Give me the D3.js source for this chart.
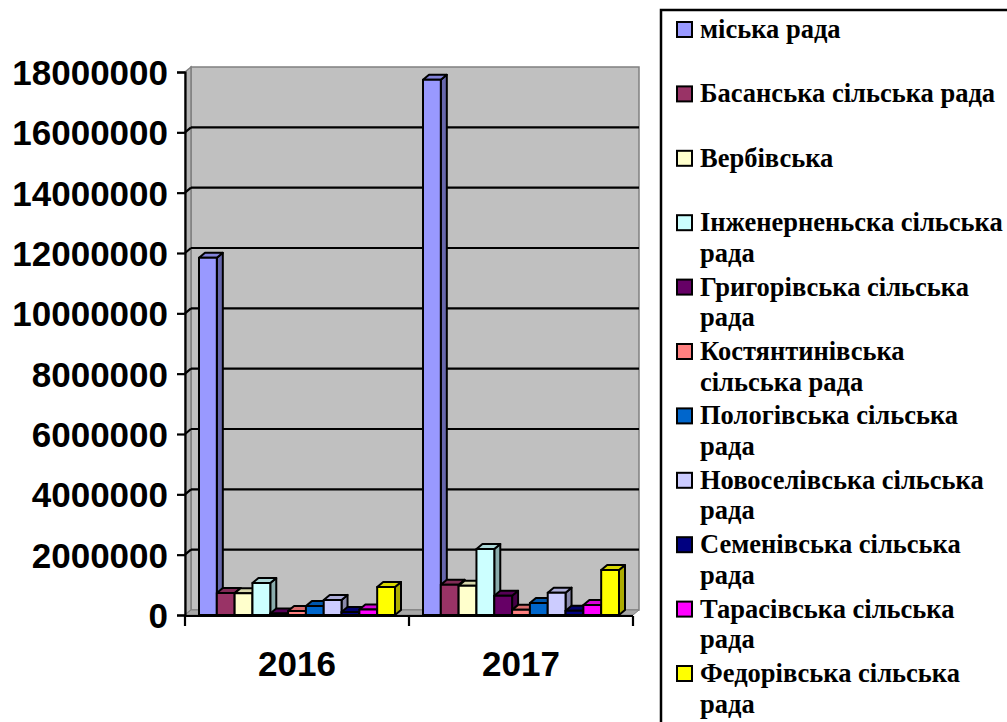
<!DOCTYPE html>
<html>
<head>
<meta charset="utf-8">
<script src="https://cdn.jsdelivr.net/npm/d3@7"></script>
<style>
  html, body { margin: 0; padding: 0; background: #fff; }
  svg { display: block; }
  svg text.lgt { font-family: "Liberation Serif", "Times New Roman", Tinos, FreeSerif, serif; font-weight: bold; }
</style>
</head>
<body>
<svg id="chart" width="1007" height="722"></svg>
<script>
// ---- data ----
const years = ["2016", "2017"];
const seriesNames = [
  "міська рада",
  "Басанська сільська рада",
  "Вербівська",
  "Інженерненьска сільська рада",
  "Григорівська сільська рада",
  "Костянтинівська сільська рада",
  "Пологівська сільська рада",
  "Новоселівська сільська рада",
  "Семенівська сільська рада",
  "Тарасівська сільська рада",
  "Федорівська сільська рада"
];
// legend lines as wrapped in the original
const legendLines = [
  ["міська рада"],
  ["Басанська сільська рада"],
  ["Вербівська"],
  ["Інженерненьска сільська", "рада"],
  ["Григорівська сільська", "рада"],
  ["Костянтинівська", "сільська рада"],
  ["Пологівська сільська", "рада"],
  ["Новоселівська сільська", "рада"],
  ["Семенівська сільська", "рада"],
  ["Тарасівська сільська", "рада"],
  ["Федорівська сільська", "рада"]
];
const seriesColors = ["#9999FF", "#993366", "#FFFFCC", "#CCFFFF", "#660066", "#FF8080",
                      "#0066CC", "#CCCCFF", "#000080", "#FF00FF", "#FFFF00"];
const values2016 = [11840000, 730000, 720000, 1060000, 50000, 130000, 300000, 500000, 100000, 180000, 930000];
const values2017 = [17740000, 1000000, 970000, 2190000, 640000, 170000, 400000, 740000, 140000, 330000, 1490000];
const yTicks = [0, 2000000, 4000000, 6000000, 8000000, 10000000, 12000000, 14000000, 16000000, 18000000];

const valuesByYear = { "2016": values2016, "2017": values2017 };

// ---- layout ----
const svg = d3.select("#chart");
const X0 = 185, X1 = 633, Y0 = 615, Ytop = 72;
const DX = 6, DY = -5;          // 3D depth offset
const WDX = 6, WDY = -5;        // wall offset

const y = d3.scaleLinear().domain([0, 18000000]).range([Y0, Ytop]);
const x0 = d3.scaleBand().domain(years).range([X0, X1]).padding(0);
const x1 = d3.scaleBand().domain(d3.range(seriesNames.length))
  .range([14, x0.bandwidth() - 14]).padding(0);

// walls
const g = svg.append("g");
g.append("polygon")
  .attr("points", [[X0 + WDX, y(18000000) + WDY], [X1 + WDX, y(18000000) + WDY], [X1 + WDX, Y0 + WDY], [X0 + WDX, Y0 + WDY]].join(" "))
  .attr("fill", "#c0c0c0").attr("stroke", "#808080").attr("stroke-width", 1.5);
g.append("polygon")
  .attr("points", [[X0, y(18000000)], [X0 + WDX, y(18000000) + WDY], [X0 + WDX, Y0 + WDY], [X0, Y0]].join(" "))
  .attr("fill", "#b4b4b4").attr("stroke", "#808080").attr("stroke-width", 1.5);
g.append("polygon")
  .attr("points", [[X0, Y0], [X1, Y0], [X1 + WDX, Y0 + WDY], [X0 + WDX, Y0 + WDY]].join(" "))
  .attr("fill", "#a8a8a8").attr("stroke", "#808080").attr("stroke-width", 1);

// gridlines
const gridVals = yTicks.filter(v => v > 0 && v < 18000000);
g.selectAll("line.grid").data(gridVals).enter().append("line")
  .attr("x1", X0 + WDX).attr("x2", X1 + WDX)
  .attr("y1", d => y(d) + WDY).attr("y2", d => y(d) + WDY)
  .attr("stroke", "#000").attr("stroke-width", 2.2);
g.selectAll("line.gridside").data(gridVals).enter().append("line")
  .attr("x1", X0).attr("x2", X0 + WDX)
  .attr("y1", d => y(d)).attr("y2", d => y(d) + WDY)
  .attr("stroke", "#000").attr("stroke-width", 2.2);

// bars
const bars = [];
years.forEach(yr => {
  valuesByYear[yr].forEach((v, i) => {
    bars.push({ yr, i, v });
  });
});
const barG = svg.append("g");
bars.forEach(b => {
  const bx = x0(b.yr) + x1(b.i);
  const bw = x1.bandwidth();
  const top = y(b.v);
  const c = seriesColors[b.i];
  const gb = barG.append("g").attr("stroke", "#000").attr("stroke-width", 2).attr("stroke-linejoin", "round");
  gb.append("polygon")
    .attr("points", [[bx + bw, top], [bx + bw + DX, top + DY], [bx + bw + DX, Y0 + DY], [bx + bw, Y0]].join(" "))
    .attr("fill", d3.color(c).darker(1.1));
  gb.append("polygon")
    .attr("points", [[bx, top], [bx + DX, top + DY], [bx + bw + DX, top + DY], [bx + bw, top]].join(" "))
    .attr("fill", d3.color(c).darker(0.45));
  gb.append("rect")
    .attr("x", bx).attr("y", top).attr("width", bw).attr("height", Y0 - top)
    .attr("fill", c);
});

// y axis
const yAxis = d3.axisLeft(y).tickValues(yTicks).tickSize(8).tickPadding(9).tickFormat(d3.format("d"));
const ya = svg.append("g").attr("transform", `translate(${X0},0)`).call(yAxis);
ya.select(".domain").attr("stroke", "#000").attr("stroke-width", 2.2);
ya.selectAll(".tick line").attr("stroke", "#000").attr("stroke-width", 2.2);
ya.selectAll(".tick text")
  .style("font-family", '"Liberation Sans"').style("font-weight", "bold").style("font-size", "35px")
  .attr("fill", "#000").attr("dy", "0.36em");

// x axis
svg.append("line").attr("x1", X0).attr("x2", X1).attr("y1", Y0 + 1).attr("y2", Y0 + 1)
  .attr("stroke", "#000").attr("stroke-width", 2.2);
const xTickPos = years.map(yr => x0(yr)).concat([X1]);
svg.selectAll("line.xtick").data(xTickPos).enter().append("line")
  .attr("x1", d => d).attr("x2", d => d).attr("y1", Y0 + 1).attr("y2", Y0 + 11)
  .attr("stroke", "#000").attr("stroke-width", 2.2);
svg.selectAll("text.xlab").data(years).enter().append("text")
  .attr("x", d => x0(d) + x0.bandwidth() / 2).attr("y", 676)
  .attr("text-anchor", "middle")
  .style("font-family", '"Liberation Sans"').style("font-weight", "bold").style("font-size", "35px")
  .text(d => d);

// legend
const lg = svg.append("g");
lg.append("rect").attr("x", 661).attr("y", 10).attr("width", 400).attr("height", 760)
  .attr("fill", "#fff").attr("stroke", "#000").attr("stroke-width", 2.5);
const entryStep = 64.4, firstBase = 38, lineStep = 30.5;
legendLines.forEach((lines, i) => {
  const base = firstBase + i * entryStep;
  lg.append("rect").attr("x", 677).attr("y", base - 16).attr("width", 15).attr("height", 15)
    .attr("fill", seriesColors[i]).attr("stroke", "#000").attr("stroke-width", 2);
  lines.forEach((ln, k) => {
    lg.append("text")
      .attr("class", "lgt")
      .attr("x", 700).attr("y", base + k * lineStep)
      .attr("font-size", 26.5)
      .attr("fill", "#000")
      .text(ln);
  });
});
</script>
</body>
</html>
